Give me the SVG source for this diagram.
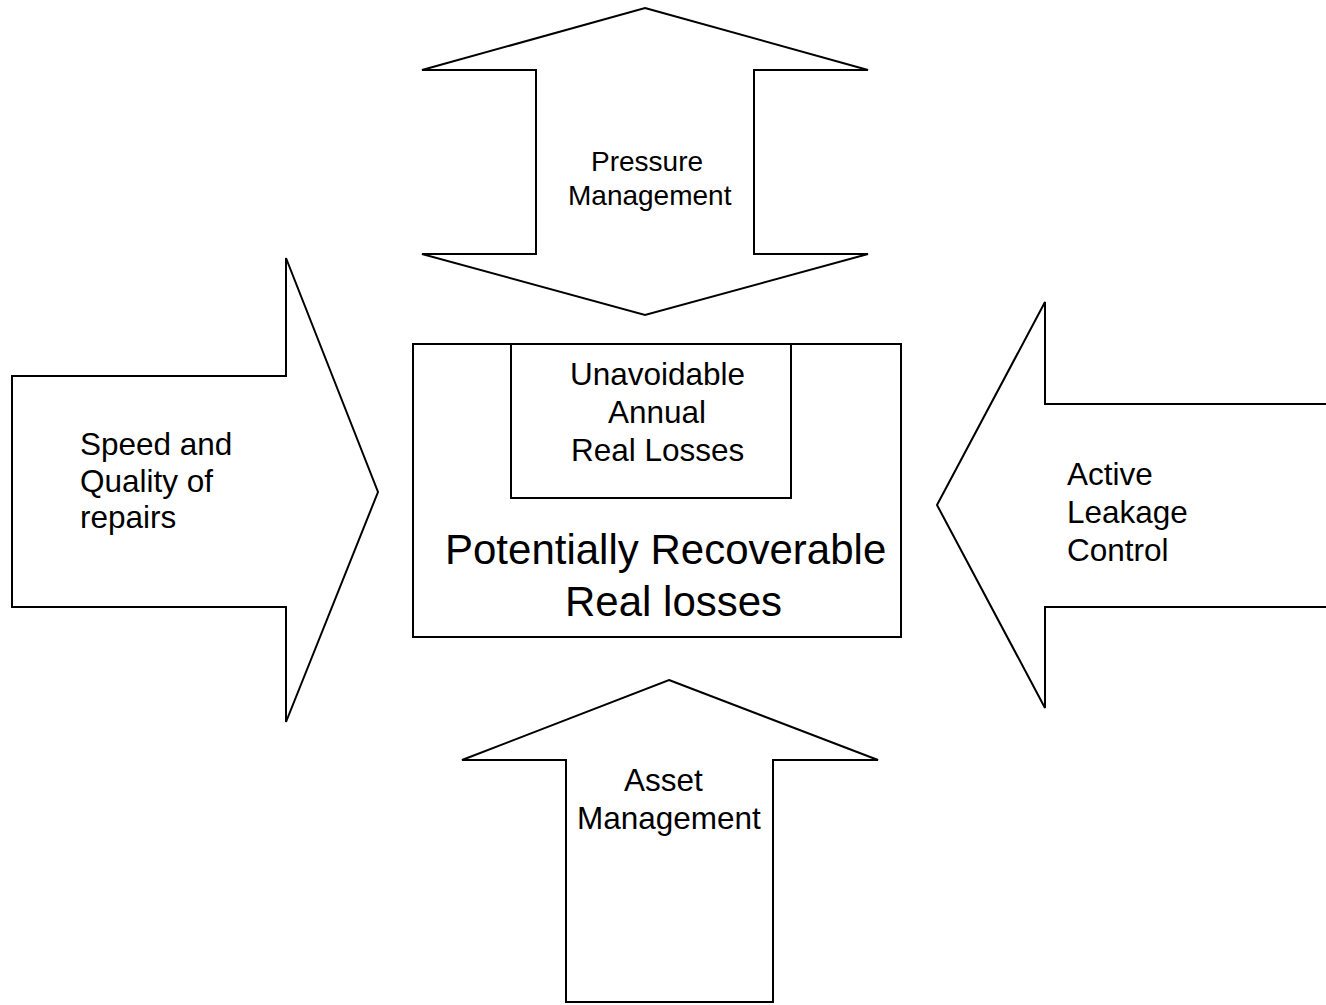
<svg xmlns="http://www.w3.org/2000/svg" width="1326" height="1005" viewBox="0 0 1326 1005">
<style>
.shape{fill:#fff;stroke:#000;stroke-width:2;stroke-linejoin:miter}
.t{font-family:"Liberation Sans",Arial,sans-serif;fill:#000}
</style>
<rect width="1326" height="1005" fill="#fff"/>
<g id="connectors"></g>
<g id="pressure-management">
<polygon class="shape" points="645,8 868,70 754,70 754,254 868,254 645,315 422,254 536,254 536,70 422,70"/>
<text class="t" font-size="28" x="591" y="171">Pressure</text>
<text class="t" font-size="28" x="568" y="205">Management</text>
</g>
<g id="speed-quality-repairs">
<polygon class="shape" points="12,376 286,376 286,258 378,492 286,722 286,607 12,607"/>
<text class="t" font-size="31.5" x="80" y="455">Speed and</text>
<text class="t" font-size="31.5" x="80" y="492">Quality of</text>
<text class="t" font-size="31.5" x="80" y="528">repairs</text>
</g>
<g id="active-leakage-control">
<polygon class="shape" points="1045,302 1045,404 1327,404 1327,607 1045,607 1045,708 937,505"/>
<text class="t" font-size="31.5" x="1067" y="485">Active</text>
<text class="t" font-size="31.5" x="1067" y="523">Leakage</text>
<text class="t" font-size="31.5" x="1067" y="561">Control</text>
</g>
<g id="asset-management">
<polygon class="shape" points="669,680 878,760 773,760 773,1002 566,1002 566,760 462,760"/>
<text class="t" font-size="31.5" x="624" y="791">Asset</text>
<text class="t" font-size="31.5" x="577" y="829">Management</text>
</g>
<g id="potentially-recoverable">
<rect class="shape" x="413" y="344" width="488" height="293"/>
<text class="t" font-size="42" x="445" y="564">Potentially Recoverable</text>
<text class="t" font-size="42" x="565" y="616">Real losses</text>
</g>
<g id="unavoidable-losses">
<rect class="shape" x="511" y="344" width="280" height="154"/>
<text class="t" font-size="31.5" x="570" y="385">Unavoidable</text>
<text class="t" font-size="31.5" x="608" y="423">Annual</text>
<text class="t" font-size="31.5" x="571" y="461">Real Losses</text>
</g>
</svg>
